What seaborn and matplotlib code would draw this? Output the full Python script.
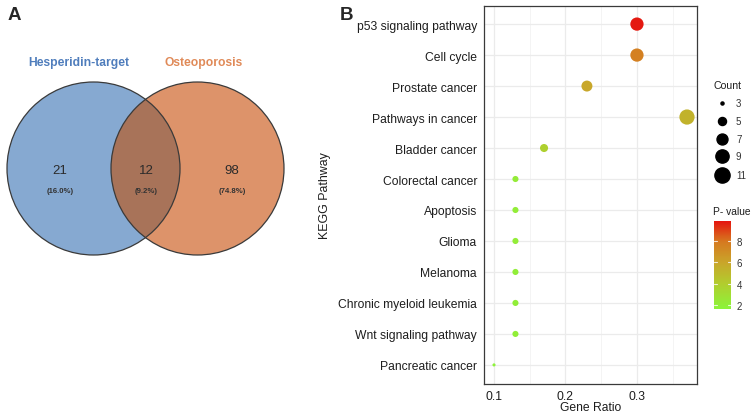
import numpy as np
import pandas as pd
import matplotlib
matplotlib.use("Agg")
import matplotlib.pyplot as plt
from matplotlib.patches import Circle
from matplotlib.colors import LinearSegmentedColormap, Normalize
from matplotlib.lines import Line2D
import seaborn as sns

# ---- data ----
# venn
set_names = ["Hesperidin-target", "Osteoporosis"]
venn_counts = [21, 12, 98]
venn_pcts = ["(16.0%)", "(9.2%)", "(74.8%)"]

# KEGG enrichment (top to bottom)
pathways = ["p53 signaling pathway", "Cell cycle", "Prostate cancer", "Pathways in cancer",
            "Bladder cancer", "Colorectal cancer", "Apoptosis", "Glioma", "Melanoma",
            "Chronic myeloid leukemia", "Wnt signaling pathway", "Pancreatic cancer"]
gene_ratio = [0.30, 0.30, 0.23, 0.37, 0.17, 0.13, 0.13, 0.13, 0.13, 0.13, 0.13, 0.10]
gene_count = [9, 9, 7, 11, 5, 4, 4, 4, 4, 4, 4, 3]
p_value = [9.8, 7.6, 5.9, 5.3, 3.8, 2.2, 2.1, 2.1, 2.0, 2.0, 2.0, 1.7]
count_breaks = [3, 5, 7, 9, 11]
p_ticks = [2, 4, 6, 8]

sns.set_style("white")
plt.rcParams['font.family'] = ['Liberation Sans', 'DejaVu Sans']

W, H = 752, 414
fig = plt.figure(figsize=(W / 100, H / 100), dpi=100)

# ---- panel A: venn ----
axv = fig.add_axes([0, 0, 1, 1])
axv.set_xlim(0, W)
axv.set_ylim(H, 0)
axv.axis("off")

r = 86.5
c1 = (93.5, 169.5)
c2 = (197.5, 169.5)
blue, orange, overlap = "#86A9D1", "#DD936A", "#A87359"
circ_a = Circle(c1, r, facecolor=blue, edgecolor="none", zorder=1)
circ_b = Circle(c2, r, facecolor=orange, edgecolor="none", zorder=1)
axv.add_patch(circ_a)
axv.add_patch(circ_b)
lens = Circle(c1, r, facecolor=overlap, edgecolor="none", zorder=2)
axv.add_patch(lens)
lens.set_clip_path(circ_b)
for c in (c1, c2):
    axv.add_patch(Circle(c, r, facecolor="none", edgecolor="#3a3a3a", lw=0.9, zorder=3))

axv.text(79, 63, set_names[0], color="#4F7DBC", fontsize=8.7, fontweight="bold",
         ha="center", va="center")
axv.text(204, 63, set_names[1], color="#E08A58", fontsize=8.7, fontweight="bold",
         ha="center", va="center")
for x, n, p in zip([60, 146, 232], venn_counts, venn_pcts):
    axv.text(x, 171, str(n), fontsize=9.5, color="#2b2b2b", ha="center", va="center")
    axv.text(x, 192, p, fontsize=5.6, color="#333333", fontweight="bold", ha="center", va="center")

axv.text(8, 15, "A", fontsize=13.5, fontweight="bold", ha="left", va="center")
axv.text(340, 15, "B", fontsize=13.5, fontweight="bold", ha="left", va="center")

# ---- panel B: KEGG dot plot ----
df = pd.DataFrame({"pathway": pathways, "ratio": gene_ratio,
                   "count": gene_count, "p": p_value})

cmap = LinearSegmentedColormap.from_list(
    "pv", [(0.0, "#8BF53A"), (0.29, "#B2CC2E"), (0.53, "#C9A52A"),
           (0.77, "#D6781F"), (1.0, "#E5140F")])
pnorm = (1.6, 9.9)
size_range = (5, 120)
size_norm = (3, 11)


def size_of(c):
    f = (c - size_norm[0]) / (size_norm[1] - size_norm[0])
    return size_range[0] + f * (size_range[1] - size_range[0])


ax_top, ax_bot = 6.5, 384.5
ax = fig.add_axes([484 / W, 1 - ax_bot / H, (697 - 484) / W, (ax_bot - ax_top) / H])
sns.scatterplot(data=df, x="ratio", y="pathway", hue="p", size="count",
                palette=cmap, hue_norm=pnorm, sizes=size_range, size_norm=size_norm,
                linewidth=0, legend=False, ax=ax, zorder=3)
ax.set_xlim(0.086, 0.384)
ax.set_ylim(len(pathways) - 0.4, -0.6)
ax.set_xticks([0.1, 0.2, 0.3])
ax.set_xticklabels(["0.1", "0.2", "0.3"])
ax.set_xticks([0.15, 0.25, 0.35], minor=True)
ax.grid(True, which="major", color="#EBEBEB", lw=0.9, zorder=0)
ax.grid(True, which="minor", axis="x", color="#F2F2F2", lw=0.6, zorder=0)
ax.set_axisbelow(True)
for s in ax.spines.values():
    s.set_color("#3a3a3a")
    s.set_linewidth(0.9)
ax.tick_params(axis="both", which="major", length=3, width=0.8, color="#3a3a3a",
               labelsize=8.7, labelcolor="#1e1e1e", pad=2)
ax.tick_params(axis="x", which="major", pad=1.5)
ax.tick_params(axis="x", which="minor", length=0)
ax.set_xlabel("Gene Ratio", fontsize=8.7, color="#1e1e1e", labelpad=-0.5)
ax.set_ylabel("KEGG Pathway", fontsize=8.9, color="#1e1e1e", labelpad=5)

# count legend
fig.text(714 / W, 1 - 86 / H, "Count", fontsize=7.6, color="#1e1e1e", va="center", ha="left")
for c, yy in zip(count_breaks, [104, 122, 140, 157, 176]):
    fig.add_artist(Line2D([722 / W], [1 - yy / H], marker="o", linestyle="none",
                          color="black", markersize=np.sqrt(size_of(c)),
                          transform=fig.transFigure))
    fig.text(736 / W, 1 - yy / H, str(c), fontsize=7, color="#333333",
             va="center", ha="left")

# p-value colorbar
fig.text(713 / W, 1 - 212 / H, "P- value", fontsize=7.4, color="#1e1e1e", va="center", ha="left")
cax = fig.add_axes([714 / W, 1 - 310 / H, 17 / W, 88 / H])
sm = plt.cm.ScalarMappable(norm=Normalize(*pnorm), cmap=cmap)
cb = fig.colorbar(sm, cax=cax)
cb.outline.set_visible(False)
cb.set_ticks(p_ticks)
cax.tick_params(length=0, labelsize=7, labelcolor="#333333", pad=4)
for v in p_ticks:
    cax.plot([0, 0.2], [v, v], color="white", lw=0.8, alpha=0.8)
    cax.plot([0.8, 1.0], [v, v], color="white", lw=0.8, alpha=0.8)
cax.set_xlim(0, 1)

fig.savefig("out.png", dpi=100)
